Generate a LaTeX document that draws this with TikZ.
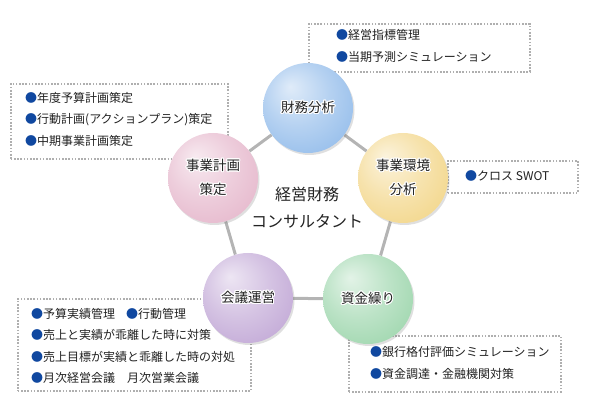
\documentclass[tikz,border=0pt]{standalone}
\usepackage{fontspec}
\setmainfont{Noto Sans CJK JP}
\usepackage{tikz}
\usetikzlibrary{shadows}
\usepackage{contour}
\contourlength{1.2pt}
\usepackage{xcolor}
\definecolor{finblue}{RGB}{150,190,235}
\definecolor{envyellow}{RGB}{243,215,140}
\definecolor{cashgreen}{RGB}{160,215,175}
\definecolor{meetpurple}{RGB}{195,170,215}
\definecolor{planpink}{RGB}{230,185,205}
\definecolor{bulletblue}{RGB}{16,72,160}
\definecolor{inkgray}{RGB}{34,34,34}
\definecolor{dotgray}{RGB}{175,175,175}
\definecolor{linkgray}{RGB}{180,180,180}
\colorlet{ballcol}{finblue}

\pgfdeclarelayer{bg}
\pgfsetlayers{bg,main}

\pgfdeclareradialshading[ballcol]{glossy}{\pgfpoint{-10bp}{12bp}}{color(0bp)=(ballcol!30!white); color(18bp)=(ballcol!70!white); color(34bp)=(ballcol); color(44bp)=(ballcol!94!black); color(50bp)=(ballcol!94!black)}

\newcommand{\bmark}{{\color{bulletblue}●}}
\newcommand{\halo}[1]{\contour{white}{#1}}

\begin{document}
\begin{tikzpicture}[x=1pt, y=-1pt,
  ball/.style={circle, minimum size=90pt, inner sep=0pt, shading=glossy, align=center,
    font=\fontsize{13.5}{24}\selectfont, text=inkgray,
    drop shadow={opacity=0.25, shadow xshift=1.5pt, shadow yshift=-2pt}},
  ballcolor/.code={\colorlet{ballcol}{#1}},
  infobox/.style={draw=dotgray, line width=1.6pt, dash pattern=on 1.6pt off 1.6pt, inner sep=0pt, anchor=north west},
  infotext/.style={anchor=west, align=left, inner sep=0pt, font=\fontsize{12}{21.5}\selectfont, text=inkgray},
  link/.style={draw=linkgray, line width=3pt}]
  \useasboundingbox (0,0) rectangle (598,414);

  % dotted boxes
  \node[infobox, minimum width=221pt, minimum height=48pt] (finbox) at (308,23) {};
  \node[infobox, minimum width=217pt, minimum height=75pt] (planbox) at (10,83) {};
  \node[infobox, minimum width=130pt, minimum height=32pt] (envbox) at (447,160) {};
  \node[infobox, minimum width=233pt, minimum height=92pt] (meetbox) at (17,298) {};
  \node[infobox, minimum width=212pt, minimum height=56pt] (cashbox) at (348,335) {};

  \node[infotext] (fintext) at (336,46) {\bmark 経営指標管理\\ \bmark 当期予測シミュレーション};
  \node[infotext] (plantext) at (25,119) {\bmark 年度予算計画策定\\ \bmark 行動計画(アクションプラン)策定\\ \bmark 中期事業計画策定};
  \node[infotext] (envtext) at (465,176) {\bmark クロス SWOT};
  \node[infotext] (meettext) at (31,346) {\bmark 予算実績管理\hspace{11pt}\bmark 行動管理\\ \bmark 売上と実績が乖離した時に対策\\ \bmark 売上目標が実績と乖離した時の対処\\ \bmark 月次経営会議　月次営業会議};
  \node[infotext] (cashtext) at (370,363) {\bmark 銀行格付評価シミュレーション\\ \bmark 資金調達・金融機関対策};

  % circles
  \node[ball, ballcolor=finblue] (fin) at (308,108) {\halo{財務分析}};
  \node[ball, ballcolor=envyellow] (env) at (403,178) {\halo{事業環境}\\\halo{分析}};
  \node[ball, ballcolor=cashgreen] (cash) at (368,299) {\halo{資金繰り}};
  \node[ball, ballcolor=meetpurple] (meet) at (248,298) {\halo{会議運営}};
  \node[ball, ballcolor=planpink] (plan) at (213,178) {\halo{事業計画}\\\halo{策定}};

  \node[align=center, font=\fontsize{16}{27}\selectfont, text=inkgray] (title) at (307,208) {経営財務\\コンサルタント};

  \begin{pgfonlayer}{bg}
    \draw[link] (fin) -- (env);
    \draw[link] (env) -- (cash);
    \draw[link] (cash) -- (meet);
    \draw[link] (meet) -- (plan);
    \draw[link] (plan) -- (fin);
  \end{pgfonlayer}
\end{tikzpicture}
\end{document}
